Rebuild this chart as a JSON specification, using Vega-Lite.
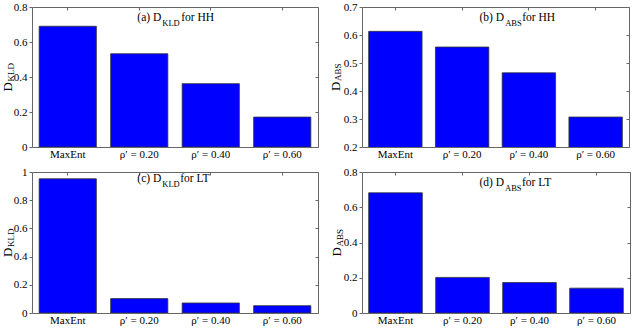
{
  "$schema": "https://vega.github.io/schema/vega-lite/v6.json",
  "background": "white",
  "padding": {"left": 0, "top": 0, "right": 0, "bottom": 0},
  "config": {
    "font": "Liberation Serif",
    "view": {"stroke": "#666666", "strokeWidth": 1},
    "axis": {"labelFont": "Liberation Serif", "titleFont": "Liberation Serif", "labelFontWeight": "normal", "labelColor": "#000000", "titleColor": "#000000", "tickColor": "#666666", "labelFontSize": 11, "grid": false, "domain": false},
    "text": {"font": "Liberation Serif", "color": "#000000"}
  },
  "datasets": {
    "hh_kld": [
      {"method": "MaxEnt", "value": 0.69},
      {"method": "ρ′ = 0.20", "value": 0.533},
      {"method": "ρ′ = 0.40", "value": 0.362},
      {"method": "ρ′ = 0.60", "value": 0.171}
    ],
    "hh_abs": [
      {"method": "MaxEnt", "value": 0.613},
      {"method": "ρ′ = 0.20", "value": 0.557},
      {"method": "ρ′ = 0.40", "value": 0.465},
      {"method": "ρ′ = 0.60", "value": 0.307}
    ],
    "lt_kld": [
      {"method": "MaxEnt", "value": 0.952},
      {"method": "ρ′ = 0.20", "value": 0.102},
      {"method": "ρ′ = 0.40", "value": 0.071},
      {"method": "ρ′ = 0.60", "value": 0.052}
    ],
    "lt_abs": [
      {"method": "MaxEnt", "value": 0.682},
      {"method": "ρ′ = 0.20", "value": 0.202},
      {"method": "ρ′ = 0.40", "value": 0.173},
      {"method": "ρ′ = 0.60", "value": 0.141}
    ]
  },
  "columns": 2,
  "spacing": {"row": 25, "column": 44},
  "bounds": "flush",
  "concat": [
    {
      "width": 286, "height": 140,
      "data": {"name": "hh_kld"},
      "resolve": {"axis": {"x": "independent", "y": "independent"}},
      "layer": [
        {
          "mark": {"type": "bar", "color": "#0000FF", "stroke": "#333333", "strokeWidth": 0.8, "clip": true},
          "encoding": {
            "x": {"field": "method", "type": "nominal", "sort": null,
              "scale": {"domain": ["MaxEnt", "ρ′ = 0.20", "ρ′ = 0.40", "ρ′ = 0.60"], "paddingInner": 0.2, "paddingOuter": 0.1},
              "axis": {"orient": "bottom", "title": null, "labelAngle": 0, "ticks": false, "labelPadding": 1, "labelFont": "Liberation Serif"}},
            "y": {"field": "value", "type": "quantitative",
              "scale": {"domain": [0, 0.8], "nice": false, "zero": false},
              "axis": {"orient": "left", "values": [0, 0.2, 0.4, 0.6, 0.8], "format": "~g", "tickSize": 3, "labelPadding": 2, "labelFont": "Liberation Serif",
                "title": "D", "titleFontSize": 13, "titleFontWeight": "normal", "titleAngle": 270, "titleX": -21, "titleY": 79.3, "titleAlign": "center", "titleBaseline": "alphabetic"}}
          }
        },
        {
          "mark": {"type": "bar", "opacity": 0, "clip": true},
          "encoding": {
            "x": {"field": "method", "type": "nominal", "sort": null, "axis": {"orient": "top", "labels": false, "tickSize": -3, "title": null}},
            "y": {"field": "value", "type": "quantitative", "axis": {"orient": "right", "labels": false, "tickSize": -3, "title": null, "values": [0, 0.2, 0.4, 0.6, 0.8]}}
          }
        },
        {
          "data": {"values": [{}]},
          "mark": {"type": "text", "text": "(a) D", "align": "right", "baseline": "alphabetic", "dx": 22, "dy": 14, "fontSize": 11.5},
          "encoding": {"x": {"datum": "ρ′ = 0.20", "type": "nominal", "axis": null}, "y": {"datum": 0.8, "type": "quantitative", "axis": null}}
        },
        {
          "data": {"values": [{}]},
          "mark": {"type": "text", "text": "KLD", "align": "left", "baseline": "alphabetic", "dx": 23, "dy": 18.5, "fontSize": 8.5},
          "encoding": {"x": {"datum": "ρ′ = 0.20", "type": "nominal", "axis": null}, "y": {"datum": 0.8, "type": "quantitative", "axis": null}}
        },
        {
          "data": {"values": [{}]},
          "mark": {"type": "text", "text": "for HH", "align": "left", "baseline": "alphabetic", "dx": 42, "dy": 14, "fontSize": 11.5},
          "encoding": {"x": {"datum": "ρ′ = 0.20", "type": "nominal", "axis": null}, "y": {"datum": 0.8, "type": "quantitative", "axis": null}}
        },
        {
          "data": {"values": [{}]},
          "mark": {"type": "text", "text": "KLD", "align": "left", "baseline": "alphabetic", "angle": 270, "dx": -4.6, "dy": -54.25, "fontSize": 9},
          "encoding": {"x": {"datum": "MaxEnt", "type": "nominal", "axis": null}, "y": {"datum": 0.4, "type": "quantitative", "axis": null}}
        }
      ]
    },
    {
      "width": 267, "height": 140,
      "data": {"name": "hh_abs"},
      "resolve": {"axis": {"x": "independent", "y": "independent"}},
      "layer": [
        {
          "mark": {"type": "bar", "color": "#0000FF", "stroke": "#333333", "strokeWidth": 0.8, "clip": true},
          "encoding": {
            "x": {"field": "method", "type": "nominal", "sort": null,
              "scale": {"domain": ["MaxEnt", "ρ′ = 0.20", "ρ′ = 0.40", "ρ′ = 0.60"], "paddingInner": 0.2, "paddingOuter": 0.1},
              "axis": {"orient": "bottom", "title": null, "labelAngle": 0, "ticks": false, "labelPadding": 1, "labelFont": "Liberation Serif"}},
            "y": {"field": "value", "type": "quantitative",
              "scale": {"domain": [0.2, 0.7], "nice": false, "zero": false},
              "axis": {"orient": "left", "values": [0.2, 0.3, 0.4, 0.5, 0.6, 0.7], "format": "~g", "tickSize": 3, "labelPadding": 2, "labelFont": "Liberation Serif",
                "title": "D", "titleFontSize": 13, "titleFontWeight": "normal", "titleAngle": 270, "titleX": -23, "titleY": 78.75, "titleAlign": "center", "titleBaseline": "alphabetic"}}
          }
        },
        {
          "mark": {"type": "bar", "opacity": 0, "clip": true},
          "encoding": {
            "x": {"field": "method", "type": "nominal", "sort": null, "axis": {"orient": "top", "labels": false, "tickSize": -3, "title": null}},
            "y": {"field": "value", "type": "quantitative", "axis": {"orient": "right", "labels": false, "tickSize": -3, "title": null, "values": [0.2, 0.3, 0.4, 0.5, 0.6, 0.7]}}
          }
        },
        {
          "data": {"values": [{}]},
          "mark": {"type": "text", "text": "(b) D", "align": "right", "baseline": "alphabetic", "dx": 42, "dy": 14, "fontSize": 11.5},
          "encoding": {"x": {"datum": "ρ′ = 0.20", "type": "nominal", "axis": null}, "y": {"datum": 0.7, "type": "quantitative", "axis": null}}
        },
        {
          "data": {"values": [{}]},
          "mark": {"type": "text", "text": "ABS", "align": "left", "baseline": "alphabetic", "dx": 43, "dy": 18.5, "fontSize": 8.5},
          "encoding": {"x": {"datum": "ρ′ = 0.20", "type": "nominal", "axis": null}, "y": {"datum": 0.7, "type": "quantitative", "axis": null}}
        },
        {
          "data": {"values": [{}]},
          "mark": {"type": "text", "text": "for HH", "align": "left", "baseline": "alphabetic", "dx": 60, "dy": 14, "fontSize": 11.5},
          "encoding": {"x": {"datum": "ρ′ = 0.20", "type": "nominal", "axis": null}, "y": {"datum": 0.7, "type": "quantitative", "axis": null}}
        },
        {
          "data": {"values": [{}]},
          "mark": {"type": "text", "text": "ABS", "align": "left", "baseline": "alphabetic", "angle": 270, "dx": -4.05, "dy": -53.9, "fontSize": 9},
          "encoding": {"x": {"datum": "MaxEnt", "type": "nominal", "axis": null}, "y": {"datum": 0.45, "type": "quantitative", "axis": null}}
        }
      ]
    },
    {
      "width": 286, "height": 141,
      "data": {"name": "lt_kld"},
      "resolve": {"axis": {"x": "independent", "y": "independent"}},
      "layer": [
        {
          "mark": {"type": "bar", "color": "#0000FF", "stroke": "#333333", "strokeWidth": 0.8, "clip": true},
          "encoding": {
            "x": {"field": "method", "type": "nominal", "sort": null,
              "scale": {"domain": ["MaxEnt", "ρ′ = 0.20", "ρ′ = 0.40", "ρ′ = 0.60"], "paddingInner": 0.2, "paddingOuter": 0.1},
              "axis": {"orient": "bottom", "title": null, "labelAngle": 0, "ticks": false, "labelPadding": 1, "labelFont": "Liberation Serif"}},
            "y": {"field": "value", "type": "quantitative",
              "scale": {"domain": [0, 1], "nice": false, "zero": false},
              "axis": {"orient": "left", "values": [0, 0.2, 0.4, 0.6, 0.8, 1], "format": "~g", "tickSize": 3, "labelPadding": 2, "labelFont": "Liberation Serif",
                "title": "D", "titleFontSize": 13, "titleFontWeight": "normal", "titleAngle": 270, "titleX": -21, "titleY": 79.8, "titleAlign": "center", "titleBaseline": "alphabetic"}}
          }
        },
        {
          "mark": {"type": "bar", "opacity": 0, "clip": true},
          "encoding": {
            "x": {"field": "method", "type": "nominal", "sort": null, "axis": {"orient": "top", "labels": false, "tickSize": -3, "title": null}},
            "y": {"field": "value", "type": "quantitative", "axis": {"orient": "right", "labels": false, "tickSize": -3, "title": null, "values": [0, 0.2, 0.4, 0.6, 0.8, 1]}}
          }
        },
        {
          "data": {"values": [{}]},
          "mark": {"type": "text", "text": "(c) D", "align": "right", "baseline": "alphabetic", "dx": 22, "dy": 10, "fontSize": 11.5},
          "encoding": {"x": {"datum": "ρ′ = 0.20", "type": "nominal", "axis": null}, "y": {"datum": 1, "type": "quantitative", "axis": null}}
        },
        {
          "data": {"values": [{}]},
          "mark": {"type": "text", "text": "KLD", "align": "left", "baseline": "alphabetic", "dx": 23, "dy": 14.5, "fontSize": 8.5},
          "encoding": {"x": {"datum": "ρ′ = 0.20", "type": "nominal", "axis": null}, "y": {"datum": 1, "type": "quantitative", "axis": null}}
        },
        {
          "data": {"values": [{}]},
          "mark": {"type": "text", "text": "for LT", "align": "left", "baseline": "alphabetic", "dx": 41, "dy": 10, "fontSize": 11.5},
          "encoding": {"x": {"datum": "ρ′ = 0.20", "type": "nominal", "axis": null}, "y": {"datum": 1, "type": "quantitative", "axis": null}}
        },
        {
          "data": {"values": [{}]},
          "mark": {"type": "text", "text": "KLD", "align": "left", "baseline": "alphabetic", "angle": 270, "dx": -4.6, "dy": -54.25, "fontSize": 9},
          "encoding": {"x": {"datum": "MaxEnt", "type": "nominal", "axis": null}, "y": {"datum": 0.5, "type": "quantitative", "axis": null}}
        }
      ]
    },
    {
      "width": 268, "height": 141,
      "data": {"name": "lt_abs"},
      "resolve": {"axis": {"x": "independent", "y": "independent"}},
      "layer": [
        {
          "mark": {"type": "bar", "color": "#0000FF", "stroke": "#333333", "strokeWidth": 0.8, "clip": true},
          "encoding": {
            "x": {"field": "method", "type": "nominal", "sort": null,
              "scale": {"domain": ["MaxEnt", "ρ′ = 0.20", "ρ′ = 0.40", "ρ′ = 0.60"], "paddingInner": 0.2, "paddingOuter": 0.1},
              "axis": {"orient": "bottom", "title": null, "labelAngle": 0, "ticks": false, "labelPadding": 1, "labelFont": "Liberation Serif"}},
            "y": {"field": "value", "type": "quantitative",
              "scale": {"domain": [0, 0.8], "nice": false, "zero": false},
              "axis": {"orient": "left", "values": [0, 0.2, 0.4, 0.6, 0.8], "format": "~g", "tickSize": 3, "labelPadding": 2, "labelFont": "Liberation Serif",
                "title": "D", "titleFontSize": 13, "titleFontWeight": "normal", "titleAngle": 270, "titleX": -22, "titleY": 79.25, "titleAlign": "center", "titleBaseline": "alphabetic"}}
          }
        },
        {
          "mark": {"type": "bar", "opacity": 0, "clip": true},
          "encoding": {
            "x": {"field": "method", "type": "nominal", "sort": null, "axis": {"orient": "top", "labels": false, "tickSize": -3, "title": null}},
            "y": {"field": "value", "type": "quantitative", "axis": {"orient": "right", "labels": false, "tickSize": -3, "title": null, "values": [0, 0.2, 0.4, 0.6, 0.8]}}
          }
        },
        {
          "data": {"values": [{}]},
          "mark": {"type": "text", "text": "(d) D", "align": "right", "baseline": "alphabetic", "dx": 41.5, "dy": 14, "fontSize": 11.5},
          "encoding": {"x": {"datum": "ρ′ = 0.20", "type": "nominal", "axis": null}, "y": {"datum": 0.8, "type": "quantitative", "axis": null}}
        },
        {
          "data": {"values": [{}]},
          "mark": {"type": "text", "text": "ABS", "align": "left", "baseline": "alphabetic", "dx": 42.5, "dy": 18.5, "fontSize": 8.5},
          "encoding": {"x": {"datum": "ρ′ = 0.20", "type": "nominal", "axis": null}, "y": {"datum": 0.8, "type": "quantitative", "axis": null}}
        },
        {
          "data": {"values": [{}]},
          "mark": {"type": "text", "text": "for LT", "align": "left", "baseline": "alphabetic", "dx": 59.5, "dy": 14, "fontSize": 11.5},
          "encoding": {"x": {"datum": "ρ′ = 0.20", "type": "nominal", "axis": null}, "y": {"datum": 0.8, "type": "quantitative", "axis": null}}
        },
        {
          "data": {"values": [{}]},
          "mark": {"type": "text", "text": "ABS", "align": "left", "baseline": "alphabetic", "angle": 270, "dx": -4.05, "dy": -53, "fontSize": 9},
          "encoding": {"x": {"datum": "MaxEnt", "type": "nominal", "axis": null}, "y": {"datum": 0.4, "type": "quantitative", "axis": null}}
        }
      ]
    }
  ]
}
